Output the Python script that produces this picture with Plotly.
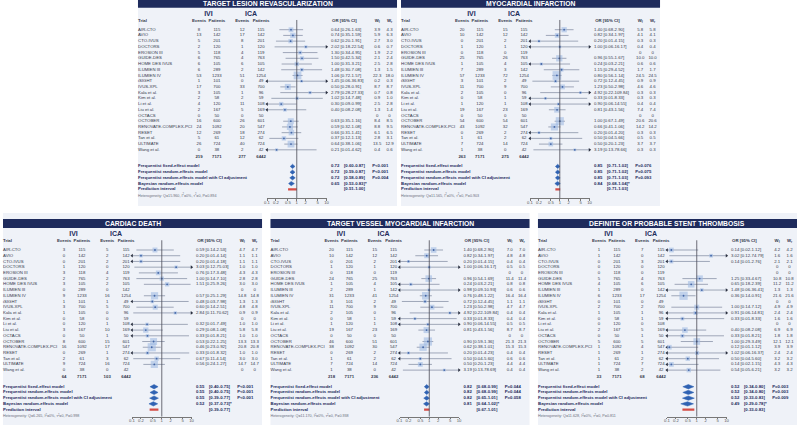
import plotly.graph_objects as go

# ---- data ----
trials = ["AIR-CTO", "AVIO", "CTO-IVUS", "DOCTORS", "EROSION III", "GUIDE-DES",
          "HOME DES IVUS", "ILUMIEN III", "ILUMIEN IV", "iSIGHT", "IVUS-XPL",
          "Kala et al.", "Kim et al.", "Li et al.", "Liu et al.", "OCTACS", "OCTOBER",
          "RENOVATE-COMPLEX-PCI", "RESET", "Tan et al.", "ULTIMATE", "Wang et al."]
ivi_patients = [115, 142, 201, 120, 118, 765, 105, 289, 1233, 101, 700, 105, 58, 120, 167, 50, 600, 1092, 269, 61, 724, 38]
ica_patients = [115, 142, 201, 120, 119, 763, 105, 142, 1254, 49, 700, 96, 59, 108, 169, 50, 601, 547, 274, 62, 724, 42]
summary_labels = ["Frequentist fixed-effect model", "Frequentist random-effects model",
                  "Frequentist random-effects model with CI adjustment",
                  "Bayesian random-effects model", "Prediction interval"]
ticks = [0.1, 0.2, 0.5, 1, 2, 5, 10]

# target lesion revascularization
tlr_ivi = [8, 13, 5, 2, 5, 6, 6, 6, 53, 1, 17, 3, 2, 4, 2, 0, 16, 24, 12, 5, 26, 0]
tlr_ica = [12, 17, 8, 1, 4, 4, 6, 2, 51, 0, 33, 1, 2, 11, 5, 0, 26, 20, 18, 12, 40, 2]
tlr_or = [0.64, 0.74, 0.62, 2.02, 1.30, 1.50, 1.00, 1.48, 1.06, 1.45, 0.50, 2.79, 1.02, 0.30, 0.40, None, 0.63, 0.59, 0.66, 0.37, 0.64, 0.21]
tlr_lo = [0.26, 0.35, 0.20, 0.18, 0.34, 0.42, 0.31, 0.30, 0.72, 0.06, 0.28, 0.28, 0.14, 0.09, 0.08, None, 0.35, 0.32, 0.31, 0.12, 0.38, 0.01]
tlr_hi = [1.63, 1.59, 1.91, 22.54, 4.95, 5.34, 3.21, 7.08, 1.57, 36.83, 0.91, 27.33, 7.48, 0.99, 2.08, None, 1.16, 1.08, 1.41, 1.13, 1.06, 4.62]
tlr_wf = [3.9, 5.9, 2.7, 0.6, 1.9, 2.1, 2.5, 1.3, 22.3, 0.2, 8.7, 0.7, 0.9, 2.5, 1.3, 0, 8.4, 8.8, 6.1, 2.8, 13.5, 0.4]
tlr_wr = [4.3, 6.3, 3.0, 0.7, 2.2, 2.4, 2.8, 1.5, 18.0, 0.3, 8.7, 0.8, 1.0, 2.8, 1.4, 0, 8.5, 9.5, 6.5, 3.1, 12.9, 0.6]
tlr_totals = ["219", "7171", "277", "6442"]
tlr_sum_or = [0.72, 0.72, 0.72, 0.65]
tlr_sum_lo = [0.60, 0.59, 0.58, 0.53]
tlr_sum_hi = [0.87, 0.87, 0.89, 0.83]
tlr_sum_p = ["P<0.001", "P<0.001", "P=0.004"]
tlr_pred = [0.51, 1.00]
tlr_het = "Heterogeneity: Q=15.960, I<sup>2</sup>=0%, τ<sup>2</sup>=0, P=0.894"

# myocardial infarction
mi_ivi = [20, 10, 0, 1, 0, 25, 1, 7, 57, 3, 11, 2, 0, 1, 19, 0, 54, 43, 0, 1, 7, 1]
mi_ica = [15, 12, 2, 1, 0, 26, 4, 3, 72, 2, 9, 0, 1, 1, 23, 0, 54, 32, 2, 2, 14, 0]
mi_or = [1.40, 0.82, 0.20, 1.00, None, 0.96, 0.24, 1.15, 0.80, 0.72, 1.23, 4.92, 0.33, 0.90, 0.81, None, 1.00, 0.66, 0.20, 0.50, 0.50, 3.19]
mi_lo = [0.68, 0.34, 0.01, 0.06, None, 0.55, 0.03, 0.29, 0.56, 0.12, 0.50, 0.22, 0.01, 0.06, 0.43, None, 0.67, 0.41, 0.01, 0.04, 0.20, 0.13]
mi_hi = [2.90, 1.97, 4.15, 16.17, None, 1.67, 2.21, 4.52, 1.14, 4.45, 2.98, 109.84, 8.33, 14.55, 1.56, None, 1.49, 1.06, 4.20, 5.66, 1.23, 78.66]
mi_w = [5.8, 4.1, 0.3, 0.4, 0, 10.0, 0.6, 1.7, 24.5, 0.9, 4.6, 0.3, 0.3, 0.4, 7.4, 0, 20.6, 14.2, 0.3, 0.5, 3.7, 0.3]
mi_totals = ["263", "7171", "275", "6442"]
mi_sum_or = [0.85, 0.85, 0.85, 0.84]
mi_sum_lo = [0.71, 0.71, 0.71, 0.68]
mi_sum_hi = [1.02, 1.02, 1.03, 1.04]
mi_sum_p = ["P=0.076", "P=0.075", "P=0.093"]
mi_pred = [0.71, 1.03]
mi_het = "Heterogeneity: Q=11.565, I<sup>2</sup>=0%, τ<sup>2</sup>=0, P=0.903"

# cardiac death
cd_ivi = [3, 0, 0, 1, 3, 2, 3, 0, 9, 1, 3, 1, 0, 0, 3, 0, 8, 16, 0, 2, 9, 0]
cd_ica = [5, 2, 2, 0, 4, 2, 2, 0, 16, 1, 5, 0, 0, 1, 10, 1, 15, 17, 1, 3, 16, 0]
cd_or = [0.59, 0.20, 0.20, 3.03, 0.76, 1.00, 1.51, None, 0.57, 0.48, 0.60, 2.84, None, 0.32, 0.29, 0.33, 0.53, 0.46, 0.33, 0.67, 0.56, None]
cd_lo = [0.14, 0.01, 0.01, 0.12, 0.17, 0.14, 0.25, None, 0.25, 0.03, 0.14, 0.11, None, 0.01, 0.08, 0.01, 0.22, 0.23, 0.01, 0.11, 0.24, None]
cd_hi = [2.53, 4.14, 4.18, 75.03, 3.48, 7.10, 9.26, None, 1.29, 7.98, 2.51, 70.62, None, 7.49, 1.08, 8.21, 1.25, 0.92, 8.32, 4.14, 1.27, None]
cd_w = [4.7, 1.1, 1.1, 1.0, 4.3, 2.8, 3.0, 0, 14.8, 1.3, 4.8, 0.9, 0, 1.0, 5.8, 1.0, 13.3, 20.8, 1.0, 3.0, 14.7, 0]
cd_totals = ["64", "7171", "103", "6442"]
cd_sum_or = [0.55, 0.55, 0.55, 0.52]
cd_sum_lo = [0.40, 0.40, 0.39, 0.37]
cd_sum_hi = [0.75, 0.75, 0.77, 0.73]
cd_sum_p = ["P<0.001", "P<0.001", "P<0.001"]
cd_pred = [0.39, 0.77]
cd_het = "Heterogeneity: Q=6.265, I<sup>2</sup>=0%, τ<sup>2</sup>=0, P=0.998"

# target vessel myocardial infarction
tv_ivi = [20, 10, 0, 1, 0, 24, 1, 2, 31, 3, 11, 2, 0, 1, 19, 0, 46, 38, 0, 1, 7, 1]
tv_ica = [15, 12, 2, 1, 0, 25, 4, 1, 41, 2, 9, 0, 1, 1, 23, 0, 51, 30, 2, 2, 14, 0]
tv_or = [1.40, 0.82, 0.20, 1.00, None, 0.96, 0.24, 0.98, 0.76, 0.72, 1.23, 4.92, 0.33, 0.90, 0.81, None, 0.90, 0.62, 0.20, 0.50, 0.50, 3.19]
tv_lo = [0.68, 0.34, 0.01, 0.06, None, 0.54, 0.03, 0.09, 0.48, 0.12, 0.50, 0.22, 0.01, 0.06, 0.43, None, 0.59, 0.38, 0.01, 0.04, 0.20, 0.13]
tv_hi = [2.90, 1.97, 4.15, 16.17, None, 1.69, 2.21, 10.93, 1.22, 4.45, 2.98, 109.84, 8.33, 14.55, 1.56, None, 1.36, 1.01, 4.23, 5.60, 1.23, 78.69]
tv_w = [7.0, 4.8, 0.4, 0.5, 0, 11.4, 0.8, 0.6, 16.4, 1.1, 4.7, 0.4, 0.4, 0.5, 8.7, 0, 21.3, 15.3, 0.4, 0.6, 4.4, 0.4]
tv_totals = ["218", "7171", "236", "6442"]
tv_sum_or = [0.82, 0.82, 0.82, 0.81]
tv_sum_lo = [0.68, 0.68, 0.65, 0.64]
tv_sum_hi = [0.99, 0.99, 1.01, 1.02]
tv_sum_p = ["P=0.044", "P=0.044", "P=0.058"]
tv_pred = [0.67, 1.01]
tv_het = "Heterogeneity: Q=11.170, I<sup>2</sup>=0%, τ<sup>2</sup>=0, P=0.938"

# definite or probable stent thrombosis
st_ivi = [1, 1, 0, 0, 0, 5, 4, 1, 6, 0, 2, 1, 0, 0, 2, 0, 5, 1, 1, 1, 1, 1]
st_ica = [7, 0, 3, 0, 0, 4, 6, 0, 17, 0, 2, 1, 1, 0, 5, 1, 5, 4, 1, 2, 7, 2]
st_or = [0.14, 3.02, 0.14, None, None, 1.25, 0.65, 1.48, 0.36, None, 1.00, 0.91, 0.33, None, 0.40, 0.33, 1.00, 0.12, 1.02, 0.50, 0.14, 0.54]
st_lo = [0.02, 0.12, 0.01, None, None, 0.33, 0.18, 0.06, 0.14, None, 0.14, 0.06, 0.01, None, 0.08, 0.01, 0.29, 0.01, 0.06, 0.04, 0.02, 0.05]
st_hi = [1.12, 74.79, 2.76, None, None, 4.67, 2.39, 36.41, 0.91, None, 7.12, 14.81, 8.33, None, 2.08, 8.21, 3.49, 1.12, 16.37, 5.60, 1.15, 6.21]
st_w = [4.2, 1.6, 2.1, 0, 0, 10.8, 11.2, 1.3, 21.6, 0, 4.9, 2.4, 1.6, 0, 6.9, 1.8, 12.1, 3.9, 2.4, 3.2, 4.3, 3.2]
st_totals = ["33", "7171", "68", "6442"]
st_sum_or = [0.52, 0.52, 0.52, 0.49]
st_sum_lo = [0.34, 0.34, 0.33, 0.29]
st_sum_hi = [0.80, 0.80, 0.83, 0.78]
st_sum_p = ["P=0.003", "P=0.003", "P=0.009"]
st_pred = [0.33, 0.83]
st_het = "Heterogeneity: Q=11.628, I<sup>2</sup>=0%, τ<sup>2</sup>=0, P=0.811"

panels = [
    dict(title="TARGET LESION REVASCULARIZATION", x0=136, top=0, r0=29.7, bot=206,
         ivi=tlr_ivi, ica=tlr_ica, orr=tlr_or, lo=tlr_lo, hi=tlr_hi, wf=tlr_wf, wr=tlr_wr,
         totals=tlr_totals, s_or=tlr_sum_or, s_lo=tlr_sum_lo, s_hi=tlr_sum_hi, s_p=tlr_sum_p,
         pred=tlr_pred, het=tlr_het),
    dict(title="MYOCARDIAL INFARCTION", x0=401, top=0, r0=29.7, bot=206,
         ivi=mi_ivi, ica=mi_ica, orr=mi_or, lo=mi_lo, hi=mi_hi, wf=mi_w, wr=mi_w,
         totals=mi_totals, s_or=mi_sum_or, s_lo=mi_sum_lo, s_hi=mi_sum_hi, s_p=mi_sum_p,
         pred=mi_pred, het=mi_het),
    dict(title="CARDIAC DEATH", x0=0, top=213, r0=250, bot=425,
         ivi=cd_ivi, ica=cd_ica, orr=cd_or, lo=cd_lo, hi=cd_hi, wf=cd_w, wr=cd_w,
         totals=cd_totals, s_or=cd_sum_or, s_lo=cd_sum_lo, s_hi=cd_sum_hi, s_p=cd_sum_p,
         pred=cd_pred, het=cd_het),
    dict(title="TARGET VESSEL MYOCARDIAL INFARCTION", x0=269.5, top=213, r0=250, bot=425,
         ivi=tv_ivi, ica=tv_ica, orr=tv_or, lo=tv_lo, hi=tv_hi, wf=tv_w, wr=tv_w,
         totals=tv_totals, s_or=tv_sum_or, s_lo=tv_sum_lo, s_hi=tv_sum_hi, s_p=tv_sum_p,
         pred=tv_pred, het=tv_het),
    dict(title="DEFINITE OR PROBABLE STENT THROMBOSIS", x0=539, top=213, r0=250, bot=425,
         ivi=st_ivi, ica=st_ica, orr=st_or, lo=st_lo, hi=st_hi, wf=st_w, wr=st_w,
         totals=st_totals, s_or=st_sum_or, s_lo=st_sum_lo, s_hi=st_sum_hi, s_p=st_sum_p,
         pred=st_pred, het=st_het),
]

# ---- style ----
W, H = 800, 425
PW = 261
S = 5.72
FONT = "Liberation Sans, Arial, sans-serif"
NAVY = "#1e2b5c"
TXT = "#33374a"
GREY = "#6b6f7d"
BG = "#eff2f8"
FS = 4.3
LX = 0.1


def py(p):
    return 1 - p / H


def wtxt(v):
    return "0" if v == 0 else f"{v:.1f}"


def text_trace(xs, ys, texts, xa, ya, pos="middle center", size=FS, color=TXT, bold=False):
    keep = [(x, y, t) for x, y, t in zip(xs, ys, texts) if t]
    return go.Scatter(x=[k[0] for k in keep], y=[k[1] for k in keep], text=[k[2] for k in keep],
                      mode="text", textposition=pos, marker=dict(size=0),
                      xaxis=xa, yaxis=ya, cliponaxis=False, hoverinfo="skip", showlegend=False,
                      textfont=dict(family=FONT, size=size, color=color,
                                    weight="bold" if bold else "normal"))


fig = go.Figure()
shapes, annotations, axes = [], [], {}

for k, p in enumerate(panels, start=1):
    sfx = "" if k == 1 else str(k)
    fx, ya, tx = "x" + sfx, "y" + sfx, f"x{k + 5}"
    x0, r0 = p["x0"], p["r0"]
    n = len(trials)
    rows = list(range(n))
    top_px = max(0, r0 - 31)
    axis_row = 29.5 if r0 < 100 else 29.15
    bot_px = r0 + axis_row * S

    axes["xaxis" + sfx] = dict(domain=[(x0 + 130) / W, (x0 + 190) / W], type="log", range=[-1, 1],
                               anchor=ya, tickvals=ticks, ticktext=[str(t) for t in ticks],
                               ticks="outside", ticklen=1.5, tickwidth=0.6, tickcolor="#777",
                               ticklabelstandoff=-2,
                               showline=True, linecolor="#777", linewidth=0.6, showgrid=False,
                               zeroline=False, tickfont=dict(family=FONT, size=4.2, color="#555"))
    axes[f"xaxis{k + 5}"] = dict(domain=[x0 / W, (x0 + PW) / W], range=[0, PW], visible=False, anchor=ya)
    axes["yaxis" + sfx] = dict(domain=[py(bot_px), py(top_px)], range=[axis_row, (top_px - r0) / S],
                               visible=False, anchor=fx)

    # panel background and header
    shapes.append(dict(type="rect", xref="paper", yref="paper", x0=x0 / W, x1=(x0 + PW) / W,
                       y0=py(p["bot"]), y1=py(p["top"]), fillcolor=BG, line=dict(width=0), layer="below"))
    shapes.append(dict(type="rect", xref="paper", yref="paper", x0=x0 / W, x1=(x0 + PW) / W,
                       y0=py(r0 - 22), y1=py(max(0, r0 - 31)), fillcolor=NAVY, line=dict(width=0), layer="below"))
    annotations.append(dict(xref="paper", yref="paper", x=(x0 + PW / 2) / W, y=py(r0 - 26.4),
                            text=p["title"], showarrow=False, xanchor="center", yanchor="middle",
                            font=dict(family=FONT, size=6.8, color="white", weight="bold")))
    # line of no effect
    shapes.append(dict(type="line", xref=fx, yref=ya, x0=1, x1=1, y0=-1.7, y1=axis_row,
                       line=dict(color="#4a4a55", width=0.8)))

    # header text
    fig.add_trace(text_trace([71, 114], [-2.75, -2.75], ["IVI", "ICA"], tx, ya, size=7, color=NAVY, bold=True))
    fig.add_trace(text_trace([61.5, 79.5, 105, 124, 208, 241, 253.5], [-1.5] * 7,
                             ["Events", "Patients", "Events", "Patients", "OR [95% CI]",
                              "W<sub>f</sub>", "W<sub>r</sub>"], tx, ya, size=FS, color=TXT, bold=True))
    fig.add_trace(text_trace([LX], [-1.5], ["Trial"], tx, ya, pos="middle right", bold=True))

    # trial rows
    fig.add_trace(text_trace([LX] * n, rows, trials, tx, ya, pos="middle right"))
    fig.add_trace(text_trace([61.5] * n, rows, [str(v) for v in p["ivi"]], tx, ya))
    fig.add_trace(text_trace([79.5] * n, rows, [str(v) for v in ivi_patients], tx, ya))
    fig.add_trace(text_trace([105] * n, rows, [str(v) for v in p["ica"]], tx, ya))
    fig.add_trace(text_trace([124] * n, rows, [str(v) for v in ica_patients], tx, ya))
    or_txt = ["" if o is None else f"{o:.2f} [{l:.2f}-{h:.2f}]" for o, l, h in zip(p["orr"], p["lo"], p["hi"])]
    fig.add_trace(text_trace([194.5] * n, rows, or_txt, tx, ya, pos="middle right"))
    fig.add_trace(text_trace([241] * n, rows, [wtxt(v) for v in p["wf"]], tx, ya))
    fig.add_trace(text_trace([253.5] * n, rows, [wtxt(v) for v in p["wr"]], tx, ya))

    # totals
    fig.add_trace(text_trace([61.5, 79.5, 105, 124], [22.2] * 4, p["totals"], tx, ya, bold=True))

    # forest: CI lines, arrows, squares
    lx, ly, la_y, ra_y = [], [], [], []
    mx, my, ms = [], [], []
    for i, (o, l, h, w) in enumerate(zip(p["orr"], p["lo"], p["hi"], p["wr"])):
        if o is None:
            continue
        lx += [max(l, 0.1), min(h, 10), None]
        ly += [i, i, None]
        if l < 0.1:
            la_y.append(i)
        if h > 10:
            ra_y.append(i)
        mx.append(o)
        my.append(i)
        ms.append(2.0 + 1.35 * w ** 0.5)
    fig.add_trace(go.Scatter(x=lx, y=ly, mode="lines", line=dict(color="#7c879e", width=0.7),
                             xaxis=fx, yaxis=ya, hoverinfo="skip", showlegend=False, cliponaxis=False))
    fig.add_trace(go.Scatter(x=[0.1] * len(la_y), y=la_y, mode="markers",
                             marker=dict(symbol="triangle-left", size=3.2, color="#2b3040"),
                             xaxis=fx, yaxis=ya, hoverinfo="skip", showlegend=False, cliponaxis=False))
    fig.add_trace(go.Scatter(x=[10] * len(ra_y), y=ra_y, mode="markers",
                             marker=dict(symbol="triangle-right", size=3.2, color="#2b3040"),
                             xaxis=fx, yaxis=ya, hoverinfo="skip", showlegend=False, cliponaxis=False))
    fig.add_trace(go.Scatter(x=mx, y=my, mode="markers",
                             marker=dict(symbol="square", size=ms, color="rgba(160,186,226,0.85)", line=dict(width=0)),
                             xaxis=fx, yaxis=ya, hoverinfo="skip", showlegend=False, cliponaxis=False))
    fig.add_trace(go.Scatter(x=mx, y=my, mode="markers",
                             marker=dict(symbol="circle", size=1.8, color="#4266a8"),
                             xaxis=fx, yaxis=ya, hoverinfo="skip", showlegend=False, cliponaxis=False))

    # summaries
    srows = [23.9 + j for j in range(5)]
    fig.add_trace(text_trace([LX] * 5, srows, summary_labels, tx, ya, pos="middle right", color=NAVY, bold=True))
    dx, dy = [], []
    for j in range(4):
        o, l, h = p["s_or"][j], p["s_lo"][j], p["s_hi"][j]
        r = srows[j]
        dx += [l, o, h, o, l, None]
        dy += [r, r - 0.38, r, r + 0.38, r, None]
    fig.add_trace(go.Scatter(x=dx, y=dy, mode="lines", fill="toself", fillcolor="#2f62b3",
                             line=dict(color="#2f62b3", width=0.5), xaxis=fx, yaxis=ya,
                             hoverinfo="skip", showlegend=False))
    fig.add_trace(go.Scatter(x=p["pred"], y=[srows[4]] * 2, mode="lines",
                             line=dict(color="#d44c46", width=2.2), xaxis=fx, yaxis=ya,
                             hoverinfo="skip", showlegend=False))
    est_txt = [f"{o:.2f}" for o in p["s_or"]]
    ci_txt = [f"[{l:.2f}-{h:.2f}]" for l, h in zip(p["s_lo"], p["s_hi"])]
    ci_txt[3] += "*"
    ci_txt.append(f"[{p['pred'][0]:.2f}-{p['pred'][1]:.2f}]")
    fig.add_trace(text_trace([194.5] * 4, srows[:4], est_txt, tx, ya, pos="middle right", color=NAVY, bold=True))
    fig.add_trace(text_trace([207.5] * 5, srows, ci_txt, tx, ya, pos="middle right", color=NAVY, bold=True))
    fig.add_trace(text_trace([236] * 3, srows[:3], p["s_p"], tx, ya, pos="middle right", color=NAVY, bold=True))
    fig.add_trace(text_trace([LX], [29.05], [p["het"]], tx, ya, pos="middle right", size=3.7, color=GREY))

fig.update_layout(width=W, height=H, margin=dict(l=0, r=0, t=0, b=0),
                  paper_bgcolor="white", plot_bgcolor="rgba(0,0,0,0)",
                  shapes=shapes, annotations=annotations, showlegend=False, **axes)
# the page body has a default 8px margin; remove it so the figure fills the window
fig.write_html("out.html", config={"displayModeBar": False},
               post_script="document.body.style.margin='0px';")
